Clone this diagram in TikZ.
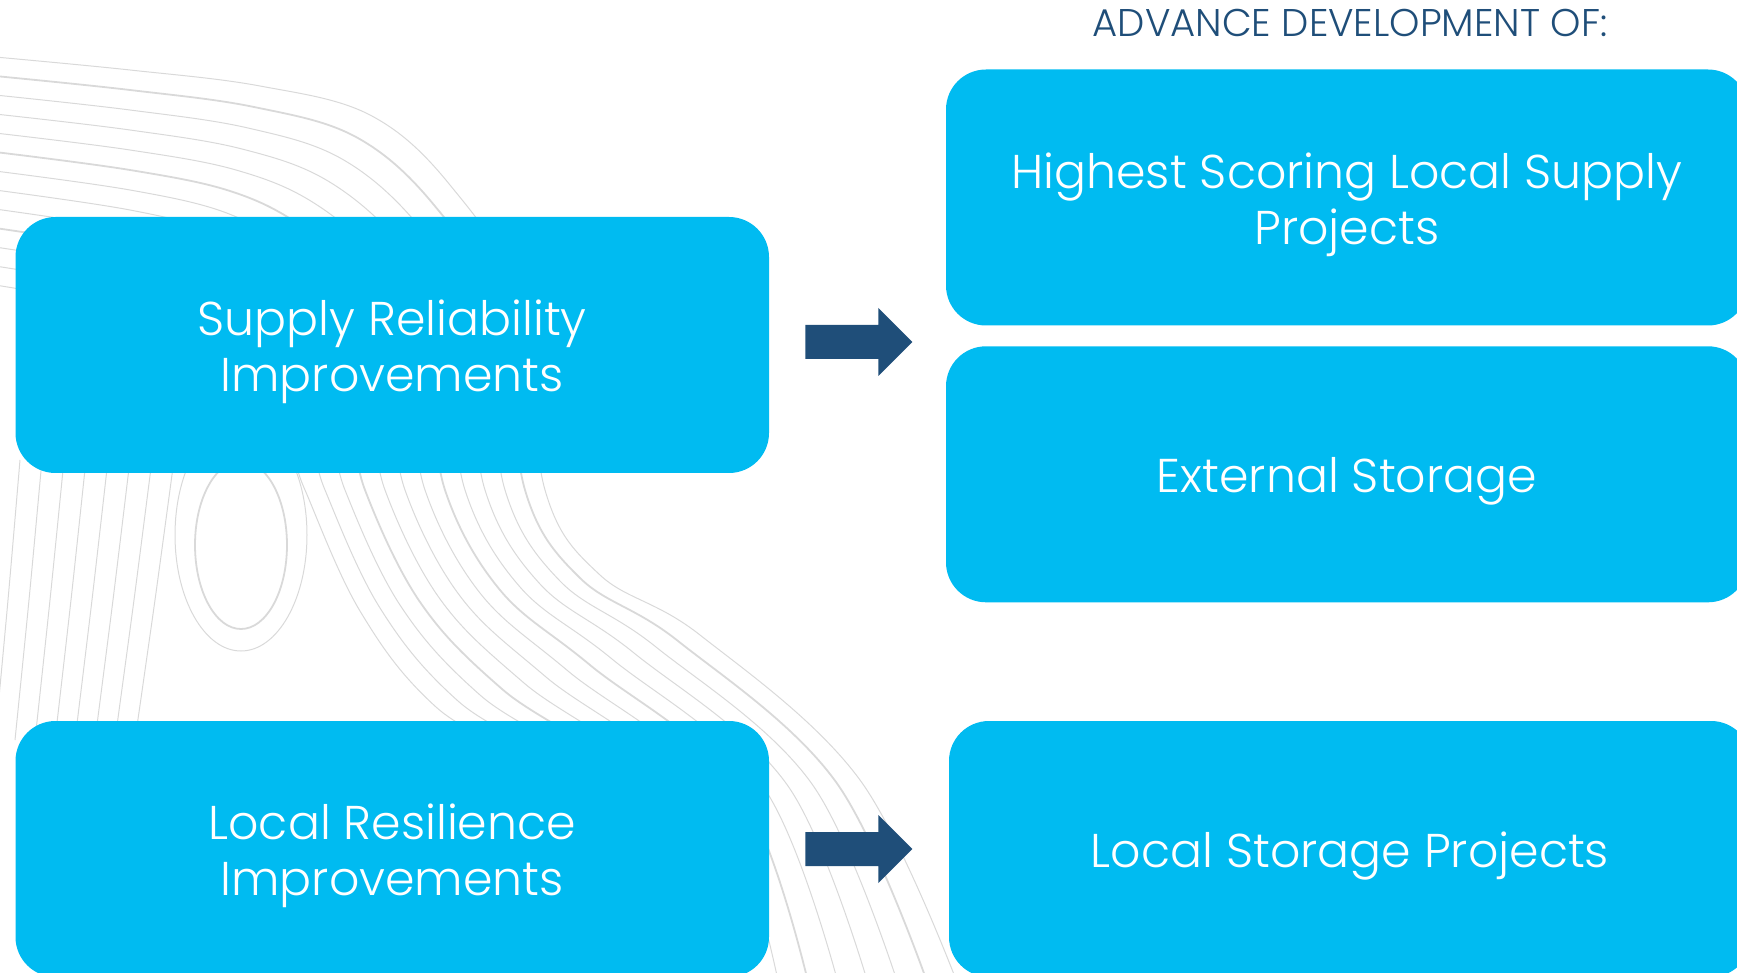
\documentclass[tikz,border=0pt]{standalone}
\usepackage{fontspec}
\IfFontExistsTF{Poppins Light}{\setmainfont{Poppins Light}}{\setmainfont{Poppins}}
\usepackage{tikz}
\usetikzlibrary{positioning}
\definecolor{ciel}{RGB}{0,187,241}
\definecolor{marine}{RGB}{31,78,121}
\tikzstyle{boite}=[rectangle, fill=ciel, rounded corners=20pt, inner sep=0pt, text=white, align=center, font=\fontsize{23.7}{28}\selectfont, minimum height=128pt]
\tikzstyle{courbe}=[draw=black!15, line width=0.5pt]
\newcommand{\boite}{\node[boite]}
\newcommand{\haut}{\rule{0pt}{25pt}}

\begin{document}
\begin{tikzpicture}[x=0.5pt, y=-0.5pt]
			\tikzstyle{fleche}=[fill=marine]
			\tikzstyle{titre}=[text=marine, anchor=base, inner sep=0pt, font=\fontsize{19.3}{22}\selectfont]
			\useasboundingbox (0,0) rectangle (1737,973);
			\clip (0,0) rectangle (1737,973);
			% Fond : lignes de niveau
			\foreach \i in {0,...,12}{
				\pgfmathsetmacro{\ep}{mod(\i,4)==1 ? 0.9 : 0.5}
				\draw[courbe, line width=\ep pt] plot[smooth, tension=0.6] coordinates {(-5,57+19*\i) (130,70+20*\i) (260-6*\i,86+21*\i) (370-14*\i,115+22*\i) (450-16*\i,185+20*\i) (520-19*\i,300+13*\i) (545-20*\i,490) (600-20*\i,575+3*\i) (700-22*\i,635+6*\i) (860-24*\i,780+2*\i) (960-30*\i,990)};
			}
			\foreach \k in {0,...,7}{
				\draw[courbe] plot[smooth] coordinates {(20+22*\k,460) (8+21*\k,600) (-5+20*\k,740)};
			}
			\draw[courbe, line width=0.9pt] (241,545) ellipse [x radius=23pt, y radius=42pt];
			\draw[courbe] (241,535) ellipse [x radius=33pt, y radius=58pt];
			% Boites
			\boite[minimum width=376.75pt] (fiab) at (392.25,345) {\haut Supply Reliability\\Improvements};
			\boite[minimum width=376.75pt] (resil) at (392.25,849) {\haut Local Resilience\\Improvements};
			\boite[minimum width=401pt] (hsl) at (1347,197.5) {\haut Highest Scoring Local Supply\\Projects};
			\boite[minimum width=401pt, below=10pt of hsl] (ext) {\haut External Storage};
			\boite[minimum width=401pt] (lsp) at (1350,849) {\haut Local Storage Projects};
			\node[titre] (titre) at (1350,37) {ADVANCE DEVELOPMENT OF:};
			% Fleches
			\coordinate (f1) at ([xshift=18pt, yshift=1.5pt]fiab.east);
			\coordinate (f2) at ([xshift=18pt]resil.east);
			\foreach \f in {f1,f2}{
				\fill[fleche] (\f) ++(0,-17) -- ++(73,0) -- ++(0,-17) -- ++(34,34) -- ++(-34,34) -- ++(0,-17) -- ++(-73,0) -- cycle;
			}
		\end{tikzpicture}
\end{document}
